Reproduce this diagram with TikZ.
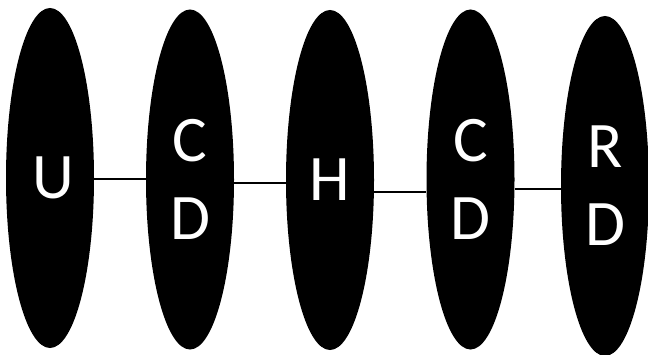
\documentclass[tikz,border=0pt]{standalone}
\usepackage{fontspec}
\setmainfont{Carlito}
\usetikzlibrary{shapes.geometric}
\begin{document}
\begin{tikzpicture}[x=1pt,y=1pt,
  blob/.style={ellipse, fill=black, draw=none, text=white, inner sep=0pt,
    minimum width=88pt, minimum height=340pt, align=center,
    font=\fontsize{65}{78}\selectfont},
  link/.style={draw=black, line width=2pt}]
\useasboundingbox (0,0) rectangle (648,354);
\node[blob] (u)   at (50,176)    {\hspace{6pt}U};
\node[blob] (cd1) at (190,174.5) {C\\D};
\node[blob] (h)   at (330,174)   {H};
\node[blob] (cd2) at (470.5,174.5) {C\\D};
\node[blob] (rd)  at (605,168)   {R\\D};
\draw[link] ([yshift=-0.5pt]u.east) -- ([yshift=-0.5pt]u.east -| cd1.west);
\draw[link] ([yshift=-3.8pt]cd1.east) -- ([yshift=-3.8pt]cd1.east -| h.west);
\draw[link] ([yshift=-12.3pt]h.east) -- ([yshift=-12.3pt]h.east -| cd2.west);
\draw[link] ([yshift=-9.5pt]cd2.east) -- ([yshift=-9.5pt]cd2.east -| rd.west);
\end{tikzpicture}
\end{document}
